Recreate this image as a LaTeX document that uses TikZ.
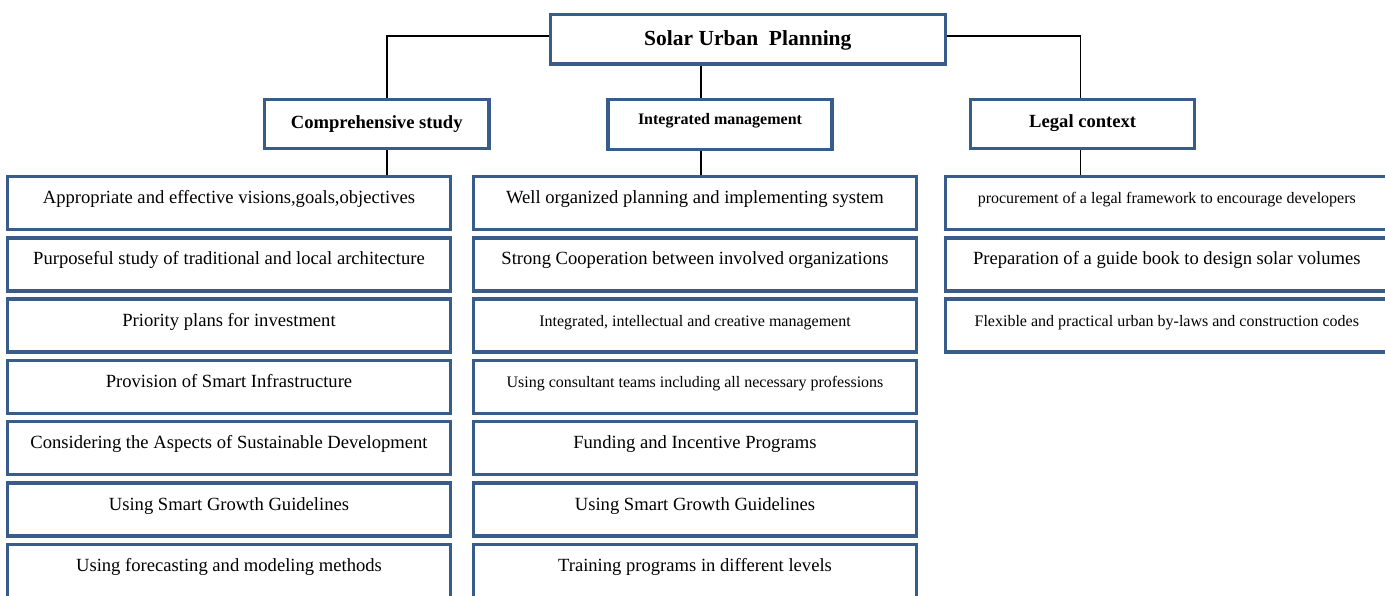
\documentclass[tikz,border=0pt]{standalone}
\usepackage{fontspec}
\setmainfont{Liberation Serif}
\usetikzlibrary{backgrounds}
\definecolor{boxblue}{HTML}{385D8A}
\newcommand\rowfont{\fontsize{18.6}{20}\selectfont}
\newcommand\smallrowfont{\fontsize{16}{18}\selectfont}
\newcommand\titlefont{\fontsize{21.5}{24}\selectfont\bfseries}
\newcommand\headfont{\fontsize{18.6}{20}\selectfont\bfseries}
\newcommand\smallheadfont{\fontsize{16}{18}\selectfont\bfseries}

\begin{document}
\begin{tikzpicture}[x=1pt,y=-1pt,
  box/.style={draw=boxblue, line width=3.5pt, fill=white, inner xsep=0pt,
    inner ysep=0pt, outer sep=0pt, anchor=north west, text=black},
  item/.style={box, minimum width=443pt, text height=27pt, text depth=26pt,
    font=\rowfont},
  smallitem/.style={item, font=\smallrowfont},
  conn/.style={draw=black, line width=1.5pt}]

\clip (0,0) rectangle (1385,596);

% top level
\node[box, minimum width=395pt, text height=31.5pt, text depth=17.8pt,
  font=\titlefont] (title) at (550.3,14.5) {Solar Urban\ \ Planning};

% second level
\node[box, minimum width=224.5pt, text height=28.8pt, text depth=20.2pt,
  font=\headfont] (comp) at (264.5,99.5) {Comprehensive study};
\node[box, minimum width=224pt, text height=25.5pt, text depth=24.7pt,
  font=\smallheadfont] (integ) at (608,99.5) {Integrated management};
\node[box, minimum width=224pt, text height=28pt, text depth=21pt,
  font=\headfont] (legal) at (970.7,99.7) {Legal context};

% comprehensive study column
\node[item] (c1) at (7.5,176.5) {Appropriate and effective visions,goals,objectives};
\node[item] (c2) at (7.5,237.8) {Purposeful study of traditional and local architecture};
\node[item] (c3) at (7.5,299.1) {Priority plans for investment};
\node[item] (c4) at (7.5,360.4) {Provision of Smart Infrastructure};
\node[item] (c5) at (7.5,421.7) {Considering the Aspects of Sustainable Development};
\node[item] (c6) at (7.5,483.0) {Using Smart Growth Guidelines};
\node[item, text depth=32pt] (c7) at (7.5,544.3) {Using forecasting and modeling methods};

% integrated management column
\node[item] (m1) at (473.5,176.5) {Well organized planning and implementing system};
\node[item] (m2) at (473.5,237.8) {Strong Cooperation between involved organizations};
\node[smallitem] (m3) at (473.5,299.1) {Integrated, intellectual and creative management};
\node[smallitem] (m4) at (473.5,360.4) {Using consultant teams including all necessary professions};
\node[item] (m5) at (473.5,421.7) {Funding and Incentive Programs};
\node[item] (m6) at (473.5,483.0) {Using Smart Growth Guidelines};
\node[item, text depth=32pt] (m7) at (473.5,544.3) {Training programs in different levels};

% legal context column
\node[smallitem] (l1) at (945.3,176.5) {procurement of a legal framework to encourage developers};
\node[item] (l2) at (945.3,237.8) {Preparation of a guide book to design solar volumes};
\node[smallitem] (l3) at (945.3,299.1) {Flexible and practical urban by-laws and construction codes};

% page background and connectors, kept behind the boxes
\begin{pgfonlayer}{background}
  \fill[white] (0,0) rectangle (1385,596);
  \draw[conn] ([yshift=3pt]title.west) -| ([xshift=10pt]comp.north);
  \draw[conn] ([yshift=3pt]title.east) -| ([xshift=-2pt]legal.north);
  \draw[conn] ([xshift=-19pt]integ.north) -- ([xshift=-19pt]integ.north |- title.south);
  \draw[conn] ([xshift=10pt]comp.south) -- ([xshift=10pt]comp.south |- c1.north);
  \draw[conn] ([xshift=-19pt]integ.south) -- ([xshift=-19pt]integ.south |- m1.north);
  \draw[conn] ([xshift=-2pt]legal.south) -- ([xshift=-2pt]legal.south |- l1.north);
\end{pgfonlayer}
\end{tikzpicture}
\end{document}
